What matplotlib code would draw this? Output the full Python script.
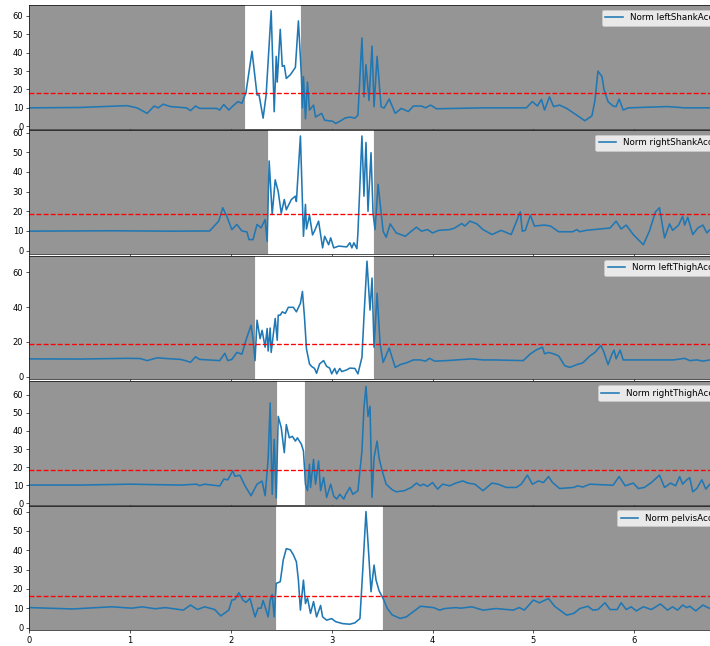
import matplotlib
matplotlib.use('Agg')
import matplotlib.pyplot as plt

# 每个传感器的加速度范数 (时间, 数值)
left_shank = [(0.0, 10), (0.5, 10.2), (0.97, 11.2), (1.07, 10), (1.17, 7), (1.24, 11), (1.28, 10), (1.33, 12),
              (1.40, 10.7), (1.56, 10), (1.60, 8.5), (1.65, 11), (1.69, 9.7), (1.86, 9.7), (1.89, 8.8), (1.93, 11.8),
              (1.98, 8.8), (2.02, 11), (2.07, 13.4), (2.11, 12.5), (2.15, 18.3), (2.21, 40.8), (2.26, 17), (2.28, 17),
              (2.32, 4.4), (2.35, 17), (2.40, 62.8), (2.43, 7.9), (2.45, 38), (2.46, 24), (2.49, 52.7), (2.51, 32.6),
              (2.53, 33), (2.55, 26), (2.59, 28), (2.64, 32), (2.67, 57.3), (2.70, 27), (2.71, 10), (2.72, 27),
              (2.74, 4), (2.76, 24), (2.78, 8.8), (2.82, 11.5), (2.84, 5), (2.90, 7), (2.93, 3.3), (3.01, 2.7),
              (3.04, 1.5), (3.10, 3.3), (3.13, 4.4), (3.18, 5), (3.23, 4.4), (3.26, 6), (3.30, 48), (3.32, 16),
              (3.34, 33.5), (3.37, 14), (3.40, 43.6), (3.42, 10.6), (3.45, 38), (3.49, 10.6), (3.52, 9.9),
              (3.57, 14.8), (3.63, 7), (3.69, 9.7), (3.76, 8), (3.81, 11), (3.89, 11), (3.93, 10), (3.98, 11.5),
              (4.04, 9.5), (4.5, 10), (4.93, 10), (4.99, 13.4), (5.04, 11), (5.08, 14.6), (5.11, 8.8), (5.16, 16),
              (5.20, 10.7), (5.26, 11.5), (5.33, 9.7), (5.43, 6), (5.51, 3), (5.58, 5.6), (5.61, 14), (5.64, 30),
              (5.68, 27), (5.70, 20), (5.74, 13.4), (5.79, 11), (5.82, 10.7), (5.85, 14.8), (5.89, 8.8), (5.94, 10),
              (6.33, 10.7), (6.5, 10), (7.0, 10)]

right_shank = [(0.0, 9.9), (0.8, 10.1), (1.4, 9.9), (1.79, 10), (1.88, 15), (1.92, 21.8), (1.96, 17.5), (2.01, 10.7),
               (2.06, 13.3), (2.11, 10), (2.16, 9.5), (2.18, 5.6), (2.22, 5.6), (2.26, 13.3), (2.30, 11.6), (2.34, 15.8),
               (2.36, 4.7), (2.38, 45.6), (2.41, 18.4), (2.44, 36), (2.47, 30), (2.50, 19), (2.53, 26), (2.55, 20.8),
               (2.60, 26), (2.64, 27.7), (2.65, 25), (2.69, 58.3), (2.72, 7.3), (2.74, 23.5), (2.75, 11), (2.78, 18),
               (2.81, 8), (2.83, 10), (2.87, 15), (2.91, 1.4), (2.93, 7.3), (2.97, 3), (2.99, 6.5), (3.02, 1.4),
               (3.07, 2.3), (3.15, 1.9), (3.18, 4), (3.20, 1.4), (3.22, 4), (3.25, 1.0), (3.26, 9), (3.30, 58.3),
               (3.32, 27.7), (3.34, 55), (3.36, 20), (3.39, 49.8), (3.41, 19), (3.43, 10.7), (3.46, 33.7), (3.51, 9.9),
               (3.54, 6.8), (3.58, 13.6), (3.64, 9), (3.73, 7.3), (3.79, 9.9), (3.84, 11.9), (3.89, 9.9), (3.95, 10.7),
               (4.0, 9), (4.06, 10.3), (4.17, 10.7), (4.22, 11.5), (4.29, 13.8), (4.32, 12.5), (4.37, 15), (4.44, 13.6),
               (4.50, 10.7), (4.59, 8.2), (4.68, 10.3), (4.78, 8.2), (4.87, 19.7), (4.89, 9.9), (4.92, 10.3), (4.97, 18),
               (5.01, 12.5), (5.11, 13), (5.17, 12.5), (5.25, 9.6), (5.39, 9.6), (5.43, 10.7), (5.46, 9.6), (5.52, 10.3),
               (5.76, 11.5), (5.82, 15), (5.87, 11), (5.92, 13), (5.99, 8.2), (6.09, 3), (6.15, 9.9), (6.21, 19.7),
               (6.25, 21.8), (6.30, 6.5), (6.35, 13.6), (6.38, 10.3), (6.44, 13), (6.48, 17.5), (6.50, 13), (6.53, 17),
               (6.58, 8.2), (6.63, 11.5), (6.68, 13), (6.72, 9), (6.75, 10.7), (6.85, 10), (7.0, 10)]

left_thigh = [(0.0, 10.3), (0.5, 10.2), (0.97, 10.6), (1.10, 10.5), (1.17, 9.3), (1.27, 10.9), (1.36, 10.5), (1.50, 10),
              (1.55, 9.3), (1.60, 8.3), (1.65, 11.5), (1.69, 10), (1.89, 9.3), (1.94, 13.5), (1.97, 9.3), (2.01, 10),
              (2.06, 14), (2.11, 13), (2.15, 21), (2.20, 29.6), (2.22, 22), (2.24, 9.3), (2.26, 32.5), (2.29, 21.9),
              (2.31, 26.7), (2.34, 17), (2.36, 27.7), (2.37, 14.8), (2.39, 28), (2.40, 14), (2.44, 33.5), (2.46, 21),
              (2.47, 35.4), (2.49, 35.4), (2.51, 37.3), (2.54, 36.4), (2.57, 39.9), (2.62, 39.9), (2.65, 37.3),
              (2.69, 42.2), (2.71, 49), (2.73, 34.4), (2.75, 16), (2.78, 7.4), (2.80, 6), (2.83, 4.8), (2.85, 2),
              (2.88, 7.4), (2.92, 9.3), (2.95, 6), (2.98, 5), (3.00, 1.7), (3.03, 4.8), (3.05, 1.7), (3.08, 4.8),
              (3.10, 3), (3.15, 4), (3.18, 5), (3.23, 4.8), (3.26, 1.7), (3.30, 11.2), (3.32, 34.4), (3.35, 66.4),
              (3.38, 38.3), (3.40, 56.7), (3.42, 17), (3.45, 48), (3.48, 19), (3.51, 8.3), (3.57, 16.5), (3.63, 5.4),
              (3.68, 7), (3.74, 8), (3.81, 9.7), (3.88, 9.7), (3.93, 9), (3.97, 10.6), (4.02, 9), (4.14, 9.3),
              (4.39, 10.3), (4.50, 9.7), (4.60, 9.7), (4.90, 9.3), (4.97, 13.2), (5.03, 15.5), (5.09, 17), (5.11, 13.2),
              (5.15, 14), (5.20, 13.2), (5.25, 12), (5.31, 6.4), (5.36, 5.4), (5.43, 7), (5.49, 8), (5.56, 12),
              (5.61, 14), (5.67, 18), (5.70, 14), (5.74, 7), (5.78, 13.2), (5.80, 15.3), (5.82, 10.3), (5.86, 15.3),
              (5.89, 9.7), (6.15, 9.7), (6.39, 9.7), (6.50, 10.6), (6.55, 9.3), (6.62, 9.7), (6.68, 9), (6.75, 9.7),
              (7.0, 9.8)]

right_thigh = [(0.0, 10.1), (0.5, 10.1), (1.0, 10.6), (1.5, 10.1), (1.66, 10.6), (1.69, 9.8), (1.74, 10.6), (1.89, 9.6),
               (1.93, 13.4), (1.97, 13), (2.02, 18), (2.04, 15), (2.09, 15.5), (2.14, 9.8), (2.20, 4.2), (2.26, 10.6),
               (2.31, 12.3), (2.34, 4.2), (2.37, 24.3), (2.39, 55.4), (2.41, 5), (2.43, 35.3), (2.45, 3), (2.47, 48),
               (2.50, 41.7), (2.53, 28), (2.55, 43.5), (2.58, 36.2), (2.61, 37), (2.64, 34.4), (2.66, 36.2),
               (2.70, 32.6), (2.72, 28.9), (2.74, 10.6), (2.76, 7), (2.78, 21.6), (2.79, 8.8), (2.82, 24.3),
               (2.84, 10.6), (2.87, 23.4), (2.89, 7), (2.92, 14.3), (2.95, 3.3), (2.99, 10.6), (3.02, 4), (3.05, 2.4),
               (3.08, 5), (3.12, 2.4), (3.14, 5), (3.18, 8.8), (3.21, 5), (3.26, 7), (3.30, 28.9), (3.32, 52.7),
               (3.34, 64.6), (3.36, 48), (3.38, 53.6), (3.40, 3.3), (3.42, 25.2), (3.45, 34.4), (3.47, 25), (3.50, 18),
               (3.54, 10.6), (3.60, 7.5), (3.64, 6.4), (3.72, 7), (3.79, 8.8), (3.84, 11.2), (3.88, 9.7), (3.91, 10.6),
               (3.95, 9.4), (4.0, 11.5), (4.05, 7.9), (4.10, 10.6), (4.17, 9.7), (4.23, 11.2), (4.30, 12.4),
               (4.35, 11.2), (4.42, 10.6), (4.50, 7), (4.59, 11.2), (4.65, 10.6), (4.73, 8.8), (4.83, 8.8),
               (4.88, 10.6), (4.94, 15.6), (4.99, 10.6), (5.05, 12.4), (5.10, 11.5), (5.15, 14.8), (5.19, 11.5),
               (5.26, 8.2), (5.40, 8.8), (5.44, 9.7), (5.49, 9), (5.56, 10.6), (5.79, 10), (5.85, 14.8), (5.91, 9.7),
               (5.99, 11.2), (6.04, 8.2), (6.10, 8.8), (6.17, 11.5), (6.25, 15.6), (6.30, 8.8), (6.36, 11.2),
               (6.41, 9.7), (6.45, 14.8), (6.48, 10.6), (6.52, 13), (6.55, 14.2), (6.58, 6.4), (6.62, 8.2), (6.67, 13),
               (6.71, 7.9), (6.75, 10.6), (6.85, 10), (7.0, 10.2)]

pelvis = [(0.0, 10.3), (0.43, 9.6), (0.82, 10.7), (1.02, 10), (1.12, 10.7), (1.25, 9.7), (1.35, 10.3), (1.53, 9),
          (1.60, 11.6), (1.67, 9.3), (1.74, 10.7), (1.84, 9.3), (1.90, 6), (1.98, 9), (2.01, 14.2), (2.04, 14.5),
          (2.08, 18), (2.12, 14.2), (2.15, 13), (2.19, 15), (2.24, 5.5), (2.27, 10), (2.30, 10), (2.32, 14),
          (2.37, 5.5), (2.39, 14), (2.41, 17), (2.43, 5.5), (2.45, 22.8), (2.49, 23.7), (2.52, 35), (2.55, 40.8),
          (2.59, 40.2), (2.62, 37.6), (2.65, 34), (2.67, 24.5), (2.69, 9), (2.72, 24.5), (2.74, 12.4), (2.76, 15.3),
          (2.79, 7.3), (2.82, 13.4), (2.85, 5.5), (2.89, 11.4), (2.91, 5.5), (2.95, 3.8), (3.0, 4.6), (3.04, 3),
          (3.11, 2), (3.18, 1.7), (3.23, 2.4), (3.28, 4.6), (3.31, 31.5), (3.34, 60), (3.36, 44), (3.39, 18.5),
          (3.42, 32.3), (3.44, 24.5), (3.47, 19), (3.51, 15), (3.55, 10), (3.60, 6.5), (3.68, 4.7), (3.74, 5.5),
          (3.81, 8.2), (3.88, 11), (4.01, 10.3), (4.07, 9), (4.12, 9.8), (4.23, 10.3), (4.28, 10), (4.39, 10.7),
          (4.50, 9), (4.63, 9.8), (4.80, 9), (4.86, 10.3), (4.91, 9), (5.00, 14.2), (5.06, 12.8), (5.15, 15),
          (5.21, 11), (5.33, 6.4), (5.40, 7.3), (5.46, 9.8), (5.54, 11), (5.59, 9), (5.64, 9.3), (5.71, 12.8),
          (5.76, 9.3), (5.83, 9.3), (5.87, 12.8), (5.92, 9.3), (5.97, 10.7), (6.02, 8.6), (6.09, 10.7), (6.17, 9.3),
          (6.26, 12.2), (6.33, 9), (6.38, 10.7), (6.43, 9), (6.48, 11.6), (6.52, 10.3), (6.55, 11), (6.61, 8.6),
          (6.68, 11.6), (6.75, 9.8), (6.85, 10), (7.0, 10)]

series = [left_shank, right_shank, left_thigh, right_thigh, pelvis]
labels = ['Norm leftShankAcc', 'Norm rightShankAcc', 'Norm leftThighAcc', 'Norm rightThighAcc', 'Norm pelvisAcc']
# 白色区域 (起点, 终点) 和阈值
spans = [(2.14, 2.69), (2.37, 3.41), (2.24, 3.41), (2.46, 2.73), (2.45, 3.50)]
thresholds = [18.3, 18.4, 18.6, 18.3, 16.4]

fig, axes = plt.subplots(5, 1, sharex=True, figsize=(710 / 60, 646 / 60), dpi=60)
# 右边超出画布, 图例被截断
fig.subplots_adjust(left=0.041, right=1.0155, top=0.992, bottom=0.025, hspace=0.01)

for ax, data, label, span, thr in zip(axes, series, labels, spans, thresholds):
    t = [p[0] for p in data]
    v = [p[1] for p in data]
    ax.set_facecolor('#959595')
    ax.axvspan(span[0], span[1], color='white')
    ax.plot(t, v, label=label, linewidth=1.9)
    ax.axhline(thr, color='r', linestyle='--', linewidth=1.6)
    ax.legend(loc='upper right', fontsize=10.5)
    ax.set_xlim(0, 6.86)

fig.savefig('out.png', dpi=60)
